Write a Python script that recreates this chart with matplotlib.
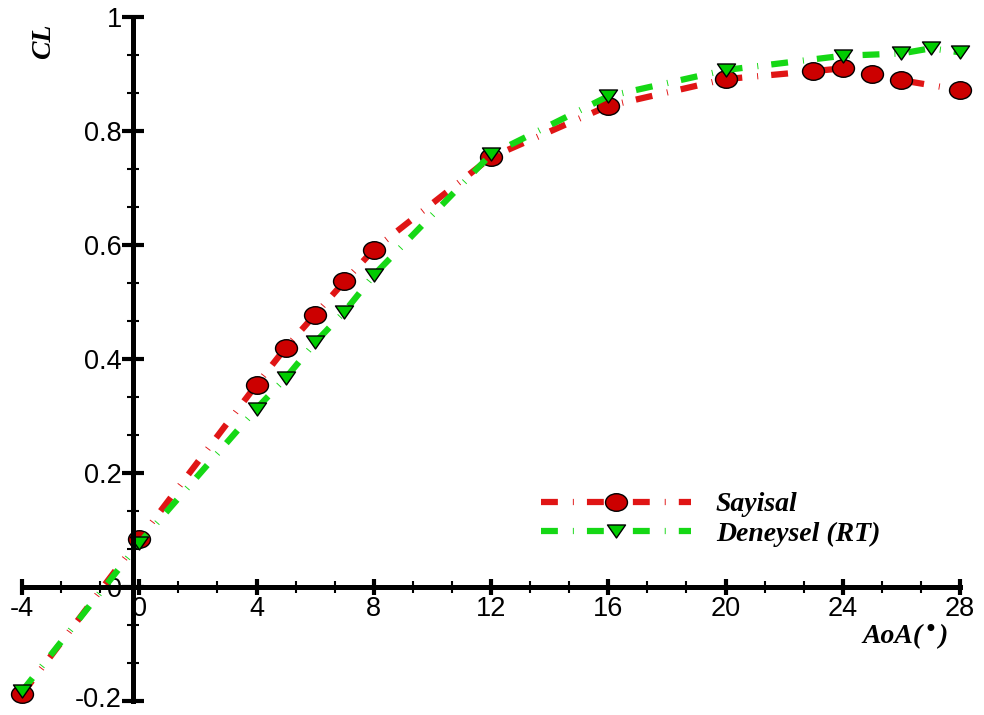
import numpy as np
import matplotlib
matplotlib.use("Agg")
import matplotlib.pyplot as plt
from matplotlib.path import Path
from matplotlib.transforms import Affine2D, ScaledTranslation
from matplotlib.ticker import MultipleLocator, FuncFormatter

plt.rcParams['font.family'] = ['Liberation Sans', 'DejaVu Sans']

# data
aoa_sayisal = [-4, 0, 4, 5, 6, 7, 8, 12, 16, 20, 23, 24, 25, 26, 28]
cl_sayisal = [-0.188, 0.084, 0.355, 0.420, 0.478, 0.536, 0.592, 0.754,
              0.844, 0.891, 0.905, 0.910, 0.900, 0.889, 0.872]

aoa_deneysel = [-4, 0, 4, 5, 6, 7, 8, 12, 16, 20, 24, 26, 27, 28]
cl_deneysel = [-0.183, 0.077, 0.313, 0.367, 0.429, 0.483, 0.547, 0.759,
               0.861, 0.907, 0.932, 0.936, 0.945, 0.938]

x_ticks = [-4, 0, 4, 8, 12, 16, 20, 24, 28]
y_ticks = [-0.2, 0, 0.2, 0.4, 0.6, 0.8, 1]

# squashed marker shapes like in the original export
ellipse = Path.unit_circle().transformed(Affine2D().scale(1.0, 0.8))
tri_down = Path([(-1, 0.72), (1, 0.72), (0, -0.72), (-1, 0.72)],
                [Path.MOVETO, Path.LINETO, Path.LINETO, Path.CLOSEPOLY])

dash = (0, (2.7, 2.4, 0.15, 2.1))
serif_bi = dict(family='Liberation Serif', weight='bold', style='italic', size=20)

fig = plt.figure(figsize=(9.84, 7.15), dpi=100)
ax = fig.add_axes([22 / 984, 14 / 715, 938 / 984, 684 / 715])

ax.plot(aoa_sayisal, cl_sayisal, color='#e01515', lw=4.5, ls=dash,
        marker=ellipse, ms=15.8, mfc='#cc0000', mec='black', mew=1.0,
        clip_on=False, label='Sayisal')
ax.plot(aoa_deneysel, cl_deneysel, color='#15d815', lw=4.5, ls=dash,
        marker=tri_down, ms=13, mfc='#00cc00', mec='black', mew=1.0,
        clip_on=False, label='Deneysel (RT)')

ax.set_xlim(-4, 28)
ax.set_ylim(-0.2, 1)

for s in ['top', 'right']:
    ax.spines[s].set_visible(False)
ax.spines['left'].set_position(('data', -0.22))
ax.spines['bottom'].set_position(('data', 0))
ax.spines['left'].set_linewidth(3.6)
ax.spines['bottom'].set_linewidth(3.6)

ax.set_xticks(x_ticks)
ax.set_yticks(y_ticks)
ax.xaxis.set_minor_locator(MultipleLocator(4 / 3))
ax.yaxis.set_minor_locator(MultipleLocator(0.2 / 3))
fmt = FuncFormatter(lambda v, p: f"{v:g}" if abs(v) > 1e-9 else "0")
ax.xaxis.set_major_formatter(fmt)
ax.yaxis.set_major_formatter(fmt)

ax.tick_params(axis='x', which='major', direction='inout', length=11.5, width=3,
               pad=1, labelsize=19.5)
ax.tick_params(axis='x', which='minor', direction='inout', length=8, width=1.5)
ax.tick_params(axis='y', which='major', direction='inout', length=16, width=3,
               pad=0, labelsize=19.5)
ax.tick_params(axis='y', which='minor', direction='inout', length=8.6, width=1.5)

leg = ax.legend(loc='upper left', bbox_to_anchor=(541 / 984, 1 - 492 / 715),
                bbox_transform=fig.transFigure, frameon=False, numpoints=1,
                handlelength=5.4, handletextpad=0.9, labelspacing=0.15,
                borderpad=0, borderaxespad=0, prop=serif_bi)

fig.text(44 / 984, 1 - 41 / 715, 'CL', rotation=90, ha='center', va='center', **serif_bi)

# x-axis title built in pieces so the raised bullet can be sized freely
fig.canvas.draw()
r = fig.canvas.get_renderer()
t1 = fig.text(862 / 984, 1 - 643 / 715, 'AoA(', ha='left', va='baseline', **serif_bi)
x1 = t1.get_window_extent(r).x1
t2 = fig.text((x1 + 1) / 984, 1 - 637 / 715, '\u2022', ha='left', va='baseline',
              family='DejaVu Sans', size=17)
x2 = t2.get_window_extent(r).x1
fig.text((x2 + 1) / 984, 1 - 643 / 715, ')', ha='left', va='baseline', **serif_bi)

for lab in ax.get_yticklabels():
    lab.set_bbox(dict(facecolor='white', edgecolor='none', pad=0))
# lowest label sits on the figure edge; nudge it up a little
lowest = ax.get_yticklabels()[0]
lowest.set_transform(lowest.get_transform() + ScaledTranslation(0, 4 / 100, fig.dpi_scale_trans))

fig.savefig('out.png', dpi=100)
